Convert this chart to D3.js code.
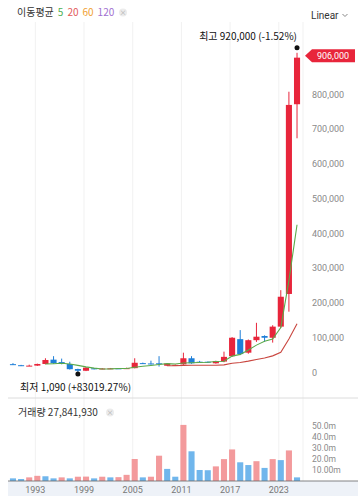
<!DOCTYPE html>
<html>
<head>
<meta charset="utf-8">
<script src="https://cdn.jsdelivr.net/npm/d3@7"></script>
<style>
  body { margin: 0; background: #fff; }
  svg { display: block; font-family: "Noto Sans CJK KR", "Noto Sans", sans-serif; }
  .num { font-family: Roboto, "Noto Sans", sans-serif; }
</style>
</head>
<body>
<svg id="chart" width="362" height="502"></svg>
<script>
// yearly candles 1990 - 2025
var years = d3.range(1990, 2026);
var opens  = [24000, 21000, 19000, 19800, 24500, 37000, 30000, 24500, 10000, 5000,
              12000, 10000, 11500, 12000, 11000, 12500, 27000, 26000, 26500, 19500,
              20500, 23500, 41000, 31000, 31000, 26500, 31500, 47000, 96000, 57000,
              93000, 105000, 100000, 132000, 226000, 772000];
var highs  = [27000, 22000, 22500, 25500, 41000, 47000, 40000, 31000, 11000, 15500,
              13000, 12500, 13000, 12500, 14000, 41000, 28500, 34000, 47000, 27000,
              23000, 57000, 47000, 33500, 31500, 34000, 60000, 102000, 122000, 95000,
              143000, 107000, 136000, 237000, 808000, 920000];
var lows   = [21500, 18500, 18500, 19000, 23500, 25000, 23500, 8500, 1090, 4000,
              9000, 9500, 10500, 10000, 10500, 12000, 24500, 23000, 17000, 18500,
              19500, 22000, 25000, 27500, 27500, 25500, 29500, 45000, 50000, 54000,
              88000, 88000, 86000, 128000, 175000, 674000];
var closes = [22500, 19500, 19800, 24500, 36000, 27000, 25000, 9500, 5000, 14000,
              10000, 11500, 12000, 11000, 12500, 28000, 25500, 24500, 24000, 26000,
              22000, 41000, 26500, 28500, 29500, 33000, 45000, 100000, 53000, 93000,
              103000, 100000, 132000, 218000, 770000, 906000];
// volume in millions
var volumes = [2.4, 1.8, 3.3, 4.7, 4.3, 2.4, 3.3, 2.4, 3.9, 4.0,
               2.4, 3.9, 3.3, 3.5, 5.6, 20.0, 3.3, 3.9, 23.0, 11.0,
               3.9, 51.0, 27.0, 10.0, 9.8, 13.3, 19.9, 28.7, 17.0, 14.5,
               18.0, 11.9, 19.9, 19.0, 27.8, 3.3];

var priceTicks = [0, 100000, 200000, 300000, 400000, 500000, 600000, 700000, 800000];
var volTicks = [10, 20, 30, 40, 50];
var volTickLabels = ["10.00m", "20.0m", "30.0m", "40.0m", "50.0m"];
var yearTicks = [1993, 1999, 2005, 2011, 2017, 2023];
var maPeriods = [5, 20, 60, 120];
var maColors = ["#4caf50", "#e25a5a", "#f0a030", "#a070d0"];
var lastPrice = 906000, highPrice = 920000, lowPrice = 1090;
var lastVolume = 27841930;

var red = "#e8253b", blue = "#1f7fd8";
var volRed = "#f39a9c", volBlue = "#70b6ec";

var svg = d3.select("#chart");

var x = d3.scaleBand().domain(years).range([7.9, 302.1]).padding(0.25);
var bw = x.bandwidth();
var cx = function(yr) { return x(yr) + bw / 2; };

var y = d3.scaleLinear().domain([0, 800000]).range([372.5, 94.5]);
var yv = d3.scaleLinear().domain([0, 50]).range([481, 426]);

// vertical grid
svg.append("g").selectAll("line")
  .data(yearTicks).enter().append("line")
  .attr("x1", function(d) { return cx(d) - 2; })
  .attr("x2", function(d) { return cx(d) - 2; })
  .attr("y1", 22).attr("y2", 481)
  .attr("stroke", "#f1f1f1");
svg.append("line").attr("x1", 303).attr("x2", 303).attr("y1", 22).attr("y2", 481)
  .attr("stroke", "#f1f1f1");

// separator between price and volume
svg.append("line").attr("x1", 8).attr("x2", 358).attr("y1", 398).attr("y2", 398)
  .attr("stroke", "#dcdcdc");

// top legend
var leg = svg.append("text").attr("x", 17).attr("y", 16).attr("font-size", 10);
leg.append("tspan").attr("fill", "#333").text("이동평균");
maPeriods.forEach(function(p, i) {
  leg.append("tspan").attr("dx", 4).attr("fill", maColors[i]).text(p);
});
function closeIcon(cxp, cyp) {
  svg.append("circle").attr("cx", cxp).attr("cy", cyp).attr("r", 4).attr("fill", "#ececec");
  svg.append("text").attr("x", cxp).attr("y", cyp + 2.5).attr("text-anchor", "middle")
    .attr("font-size", 7).attr("fill", "#aaa").text("×");
}
closeIcon(123, 12.5);

var lin = svg.append("text").attr("class", "num").attr("x", 311).attr("y", 18.5)
  .attr("font-size", 10).attr("fill", "#333").text("Linear");
var lw = lin.node().getComputedTextLength();
svg.append("path").attr("d", "M" + (311 + lw + 4) + ",14 l2.5,2.5 l2.5,-2.5").attr("fill", "none")
  .attr("stroke", "#888").attr("stroke-width", 1);

// price axis labels
svg.append("g").selectAll("text")
  .data(priceTicks).enter().append("text").attr("class", "num")
  .attr("x", 312).attr("y", function(d) { return y(d); })
  .attr("dy", "0.35em").attr("font-size", 9).attr("fill", "#8a8a8a")
  .text(function(d) { return d3.format(",")(d); });

// moving averages
function movingAvg(n) {
  var out = [];
  for (var i = n - 1; i < closes.length; i++) {
    out.push({ yr: years[i], v: d3.mean(closes.slice(i - n + 1, i + 1)) });
  }
  return out;
}
var line = d3.line().x(function(d) { return cx(d.yr); }).y(function(d) { return y(d.v); });

// candles
var candles = svg.append("g").selectAll("g")
  .data(years).enter().append("g");
candles.append("line")
  .attr("x1", function(d) { return cx(d); }).attr("x2", function(d) { return cx(d); })
  .attr("y1", function(d, i) { return y(highs[i]); })
  .attr("y2", function(d, i) { return y(lows[i]); })
  .attr("stroke", function(d, i) { return closes[i] >= opens[i] ? red : blue; })
  .attr("stroke-width", 1);
candles.append("rect")
  .attr("x", function(d) { return x(d); }).attr("width", bw)
  .attr("y", function(d, i) { return y(Math.max(opens[i], closes[i])); })
  .attr("height", function(d, i) { return Math.max(1, Math.abs(y(opens[i]) - y(closes[i]))); })
  .attr("fill", function(d, i) { return closes[i] >= opens[i] ? red : blue; });

[0, 1].forEach(function(k) {
  var data = movingAvg(maPeriods[k]);
  svg.append("path").datum(data).attr("d", line).attr("fill", "none")
    .attr("stroke", k == 0 ? "#5aaa4a" : "#c9463f").attr("stroke-width", 1.1);
});

// high / low markers
var hi = highs.indexOf(highPrice), lo = lows.indexOf(lowPrice);
svg.append("circle").attr("cx", cx(years[hi])).attr("cy", y(highPrice) - 5).attr("r", 2.5).attr("fill", "#111");
svg.append("text").attr("x", cx(years[hi])).attr("y", y(highPrice) - 12.5)
  .attr("text-anchor", "end").attr("font-size", 10).attr("fill", "#111")
  .text("최고 " + d3.format(",")(highPrice) + " (" + d3.format(".2f")((lastPrice / highPrice - 1) * 100).replace("−", "-") + "%)");
svg.append("circle").attr("cx", cx(years[lo])).attr("cy", y(lowPrice) + 2).attr("r", 2.5).attr("fill", "#111");
svg.append("text").attr("x", 20).attr("y", y(lowPrice) + 19)
  .attr("font-size", 10).attr("fill", "#111")
  .text("최저 " + d3.format(",")(lowPrice) + " (+" + d3.format(".2f")((lastPrice / lowPrice - 1) * 100) + "%)");

// last price tag
var ly = y(lastPrice) - 2;
svg.append("path")
  .attr("d", "M305," + ly + " l7,-6.5 h43 v13 h-43 z")
  .attr("fill", red);
svg.append("text").attr("class", "num").attr("x", 333).attr("y", ly).attr("dy", "0.35em").attr("text-anchor", "middle")
  .attr("font-size", 9).attr("fill", "#fff").text(d3.format(",")(lastPrice));

// volume
svg.append("text").attr("x", 18).attr("y", 416).attr("font-size", 10).attr("fill", "#333")
  .text("거래량 " + d3.format(",")(lastVolume));
closeIcon(110, 412.5);

svg.append("g").selectAll("rect")
  .data(years).enter().append("rect")
  .attr("x", function(d) { return x(d); }).attr("width", bw)
  .attr("y", function(d, i) { return yv(volumes[i]); })
  .attr("height", function(d, i) { return yv(0) - yv(volumes[i]); })
  .attr("fill", function(d, i) { return i > 0 && volumes[i] > volumes[i - 1] ? volRed : volBlue; });

svg.append("g").selectAll("text")
  .data(volTicks).enter().append("text").attr("class", "num")
  .attr("x", 312).attr("y", function(d) { return yv(d); })
  .attr("dy", "0.35em").attr("font-size", 8.5).attr("fill", "#8a8a8a")
  .text(function(d, i) { return volTickLabels[i]; });

// bottom time axis strip
svg.append("rect").attr("x", 8).attr("y", 481).attr("width", 350).attr("height", 15)
  .attr("fill", "#eef2f8");
svg.append("line").attr("x1", 8).attr("x2", 358).attr("y1", 481).attr("y2", 481)
  .attr("stroke", "#666").attr("stroke-width", 0.8);
svg.append("g").selectAll("text")
  .data(yearTicks).enter().append("text").attr("class", "num")
  .attr("x", function(d) { return cx(d) - 2; }).attr("y", 489.5)
  .attr("dy", "0.35em").attr("text-anchor", "middle")
  .attr("font-size", 9).attr("fill", "#777")
  .text(function(d) { return d; });
</script>
</body>
</html>
